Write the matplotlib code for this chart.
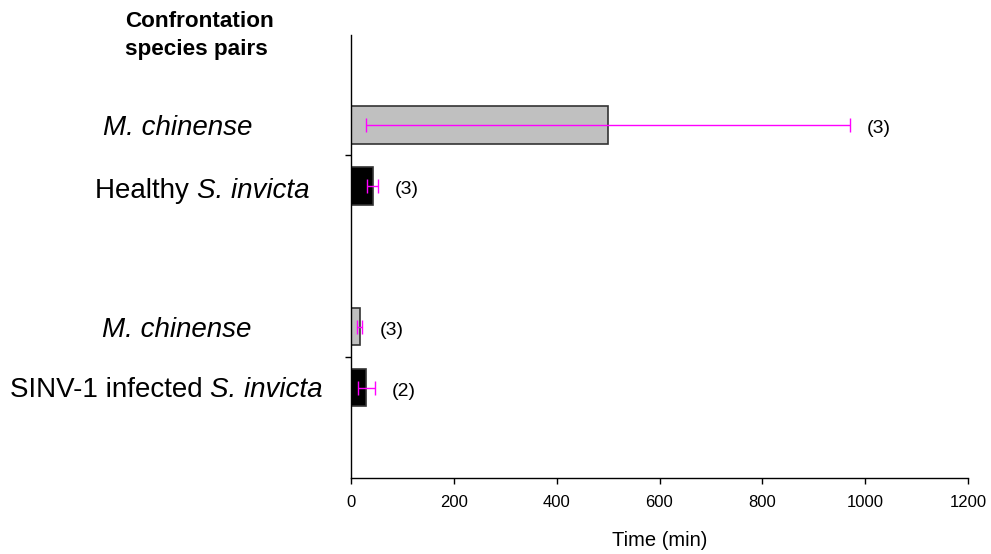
import matplotlib
matplotlib.use("Agg")
import matplotlib.pyplot as plt

plt.rcParams['font.family'] = ['Liberation Sans', 'DejaVu Sans']

# Data
labels = ["M. chinense", "Healthy S. invicta", "M. chinense", "SINV-1 infected S. invicta"]
values = [500, 42, 17, 30]
errors = [470, 10, 5, 17]
ns = ["(3)", "(3)", "(3)", "(2)"]
colors = ["#C0C0C0", "#000000", "#C0C0C0", "#000000"]
positions = [0, 1, 3.31, 4.31]
xticks = [0, 200, 400, 600, 800, 1000, 1200]

fig = plt.figure(figsize=(9.91, 5.54), dpi=100)
W, H = 991, 554
ax = fig.add_axes([351 / W, 1 - 478 / H, (968 - 351) / W, (478 - 35) / H])

ax.barh(positions, values, height=0.61, color=colors, edgecolor="#333333", linewidth=1.2)
ax.errorbar(values, positions, xerr=errors, fmt="none", ecolor="#FF00FF",
            elinewidth=1, capsize=4.7, capthick=1)

for v, e, p, n in zip(values, errors, positions, ns):
    ax.annotate(n, xy=(v + e, p), xytext=(17, -4), textcoords="offset pixels",
                ha="left", va="center", fontsize=14)

ax.set_xlim(0, 1200)
ax.set_ylim(5.79, -1.475)
ax.set_xticks(xticks)
ax.set_xticklabels([str(t) for t in xticks], fontsize=12)
ax.set_yticks([0.5, 3.81])
ax.set_yticklabels([])
ax.tick_params(axis="both", direction="out", length=4.5, width=1)
ax.tick_params(axis="x", pad=8)
ax.spines["top"].set_visible(False)
ax.spines["right"].set_visible(False)
ax.spines["left"].set_linewidth(1)
ax.spines["bottom"].set_linewidth(1)

fig.text(659.5 / W, 1 - 540 / H, "Time (min)", fontsize=14.5, ha="center", va="center")

# Category labels (left side), figure-pixel layout
label_x = [103, 95, 102, 10]
label_base = [135, 198, 337, 397]
label_parts = [
    [("M. chinense", "italic")],
    [("Healthy ", "normal"), ("S. invicta", "italic")],
    [("M. chinense", "italic")],
    [("SINV-1 infected ", "normal"), ("S. invicta", "italic")],
]
fig.canvas.draw()
renderer = fig.canvas.get_renderer()
for lx, yb, parts in zip(label_x, label_base, label_parts):
    x = lx
    for txt, style in parts:
        t = fig.text(x / W, 1 - yb / H, txt, fontsize=20, style=style,
                     ha="left", va="baseline")
        bb = t.get_window_extent(renderer=renderer)
        x = bb.x1

fig.text(125 / W, 1 - 27 / H, "Confrontation", fontsize=16.2,
         fontweight="bold", ha="left", va="baseline")
fig.text(125 / W, 1 - 55 / H, "species pairs", fontsize=16.2,
         fontweight="bold", ha="left", va="baseline")

fig.savefig("out.png", dpi=100)
